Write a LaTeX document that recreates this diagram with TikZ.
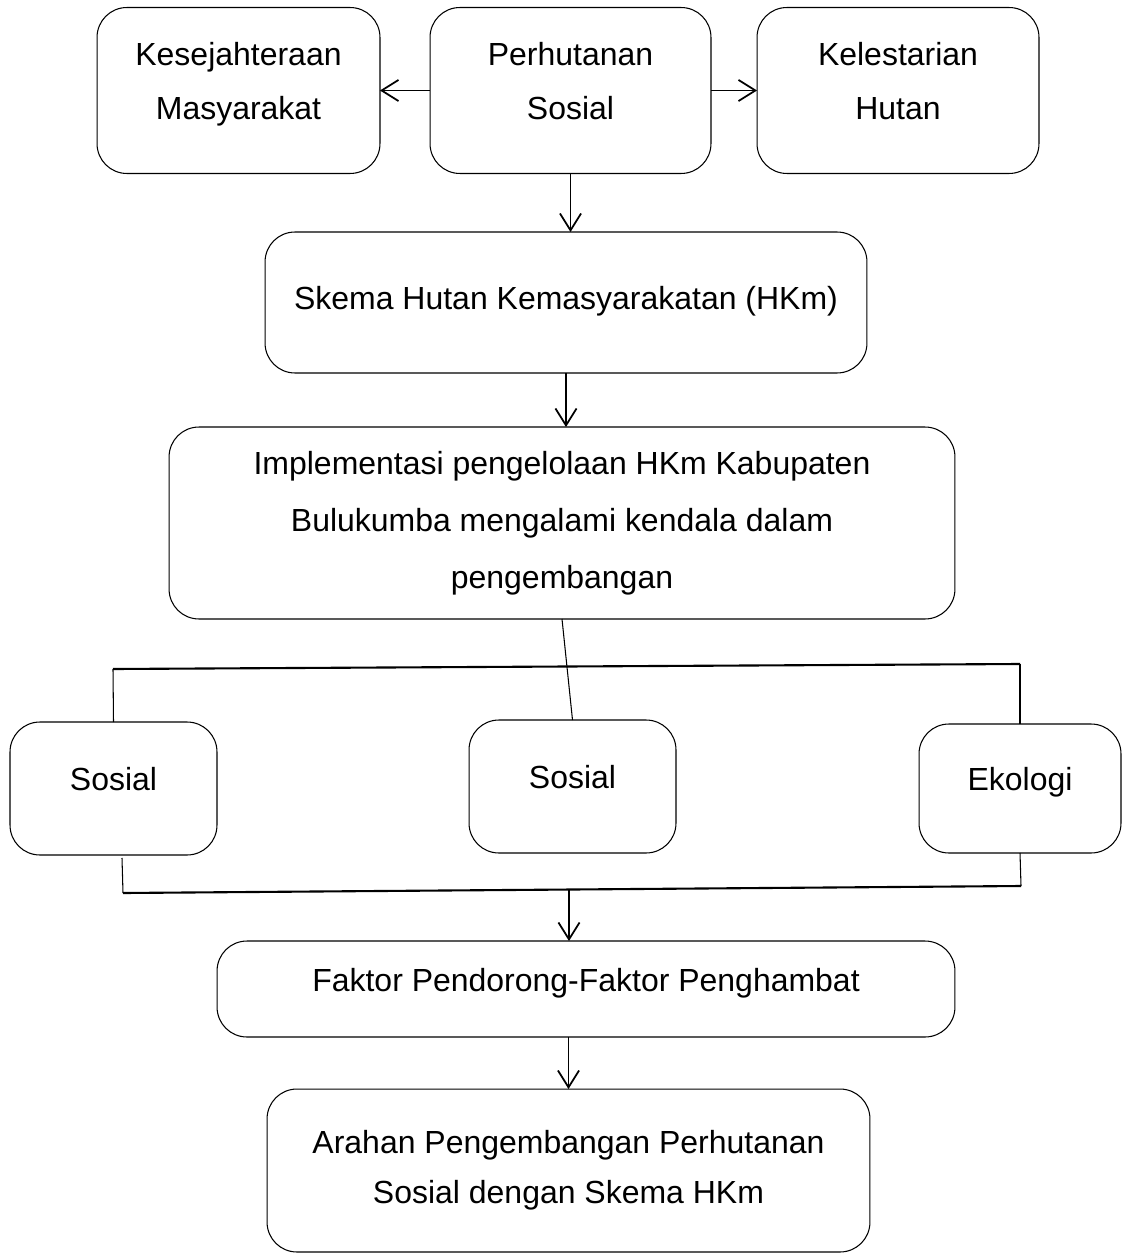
\documentclass[tikz,border=0pt]{standalone}
\usepackage{fontspec}
\setmainfont{Liberation Sans}
\usetikzlibrary{arrows.meta}

\tikzset{
  box/.style={draw, rounded corners=17pt, line width=0.6pt, align=center,
    inner sep=0pt, outer sep=0pt, font=\fontsize{18.2}{30.6}\selectfont},
  lines/.style={font=\fontsize{18.2}{#1}\selectfont},
  lift/.style={execute at end node={\rule[-#1]{0pt}{0pt}}},
  flow/.style={-{Straight Barb[length=9.6pt,width=12pt]}, line width=1pt},
  bus/.style={line width=1.2pt},
  link/.style={line width=0.6pt}
}

\begin{document}
\begin{tikzpicture}[x=0.02cm,y=-0.02cm]
 \useasboundingbox (0,0) rectangle (1122,1256);

 % top row
 \node [box, lift=10.9pt, minimum width=5.66cm, minimum height=3.32cm] (ks) at (238.5,90.5) {Kesejahteraan\\Masyarakat};
 \node [box, lift=10.9pt, minimum width=5.62cm, minimum height=3.32cm] (ps) at (570.5,90.5) {Perhutanan\\Sosial};
 \node [box, lift=10.9pt, minimum width=5.64cm, minimum height=3.32cm] (kh) at (898,90.5) {Kelestarian\\Hutan};

 \node [box, lift=5.6pt, minimum width=12.04cm, minimum height=2.82cm] (skema) at (566,302.5) {Skema Hutan Kemasyarakatan (HKm)};
 \node [box, lines=32.3pt, minimum width=15.72cm, minimum height=3.84cm] (impl) at (562,523)
   {Implementasi pengelolaan HKm Kabupaten\\Bulukumba mengalami kendala dalam\\pengembangan};

 % aspects
 \node [box, lift=11pt, minimum width=4.14cm, minimum height=2.66cm] (sos1) at (113.5,788.5) {Sosial};
 \node [box, lift=11pt, minimum width=4.14cm, minimum height=2.66cm] (sos2) at (572.5,786.5) {Sosial};
 \node [box, lift=11pt, minimum width=4.04cm, minimum height=2.58cm] (eko) at (1020,788.5) {Ekologi};

 \node [box, lift=10.5pt, minimum width=14.76cm, minimum height=1.92cm] (faktor) at (586,989) {Faktor Pendorong-Faktor Penghambat};
 \node [box, lines=28.3pt, minimum width=12.06cm, minimum height=3.26cm] (arahan) at (568.5,1170.5)
   {Arahan Pengembangan Perhutanan\\Sosial dengan Skema HKm};

 \draw [flow] (ps.west) -- (ks.east);
 \draw [flow] (ps.east) -- (kh.west);
 \draw [flow] (ps.south) -- (ps.south |- skema.north);
 \draw [flow] (skema.south) -- (skema.south |- impl.north);

 % branches
 \coordinate (busL) at (113,669);
 \coordinate (busR) at (1020,664);
 \draw [link] (impl.south) -- (sos2.north);
 \draw [link] (sos1.north) -- (busL);
 \draw [link] (eko.north) -- (busR);
 \draw [bus] (busL) -- (busR);

 \coordinate (joinL) at (123,893);
 \coordinate (joinR) at (1021,886);
 \coordinate (joinM) at (569,890);
 \draw [link] ([xshift=0.17cm,yshift=-0.06cm]sos1.south) -- (joinL);
 \draw [link] (eko.south) -- (joinR);
 \draw [bus] (joinL) -- (joinR);
 \draw [flow] (joinM) -- (joinM |- faktor.north);
 \draw [flow] (arahan.north |- faktor.south) -- (arahan.north);
\end{tikzpicture}
\end{document}
